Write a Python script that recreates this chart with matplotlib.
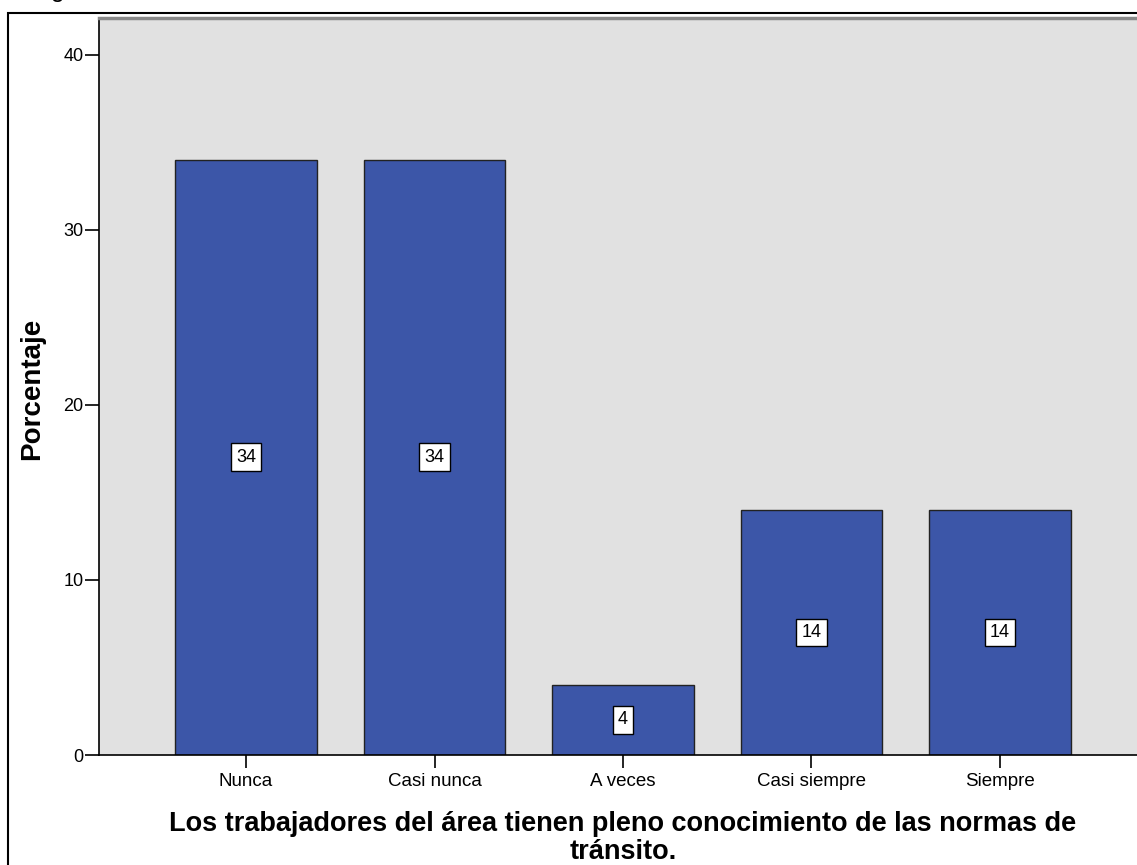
import matplotlib
matplotlib.use("Agg")
import matplotlib.pyplot as plt
from matplotlib.patches import Rectangle

categories = ["Nunca", "Casi nunca", "A veces", "Casi siempre", "Siempre"]
values = [34, 34, 4, 14, 14]
yticks = [0, 10, 20, 30, 40]
xlabel = "Los trabajadores del área tienen pleno conocimiento de las normas de\ntránsito."
ylabel = "Porcentaje"

plt.rcParams['font.family'] = ['Liberation Sans', 'DejaVu Sans']

W, H = 1137, 865
fig = plt.figure(figsize=(W / 100, H / 100), dpi=100)

# outer frame (cropped screenshot of an SPSS chart)
fig.patches.append(Rectangle((8 / W, -0.5), 2.0, 1 - 13 / H + 0.5, transform=fig.transFigure,
                             fill=False, edgecolor='black', linewidth=1.5))
fig.text(12 / W, 1 + 3 / H, "Pregunta", fontsize=18, va='baseline', ha='left')

ax = fig.add_axes([99 / W, 1 - 755 / H, 1048 / W, (755 - 18) / H])
ax.set_facecolor('#E1E1E1')
x = list(range(len(categories)))
ax.bar(x, values, width=0.75, color='#3C56A8', edgecolor='#222222', linewidth=1.0, zorder=2)
for xi, v in zip(x, values):
    ax.text(xi, v / 2, str(v), ha='center', va='center', fontsize=13, zorder=3,
            bbox=dict(boxstyle='square,pad=0.3', facecolor='white', edgecolor='black', linewidth=1))

ax.set_xlim(-0.78, 4.78)
ax.set_ylim(0, 42.1)
ax.set_yticks(yticks)
ax.set_xticks(x)
ax.set_xticklabels(categories, fontsize=13.5)
ax.tick_params(axis='y', labelsize=13, length=10, width=1.2, direction='out', pad=1)
ax.tick_params(axis='x', length=9, width=1.2, direction='out', pad=4)

ax.spines['right'].set_visible(False)
ax.spines['top'].set_color('#888888')
ax.spines['top'].set_linewidth(2.5)
ax.spines['left'].set_linewidth(1.2)
ax.spines['bottom'].set_linewidth(1.2)

ax.set_xlabel(xlabel, fontsize=19.5, fontweight='bold', labelpad=15, linespacing=1.12)
ax.set_ylabel(ylabel, fontsize=20, fontweight='bold')
ax.yaxis.set_label_coords((45 - 99) / 1048, 0.497)

fig.savefig("out.png", dpi=100)
